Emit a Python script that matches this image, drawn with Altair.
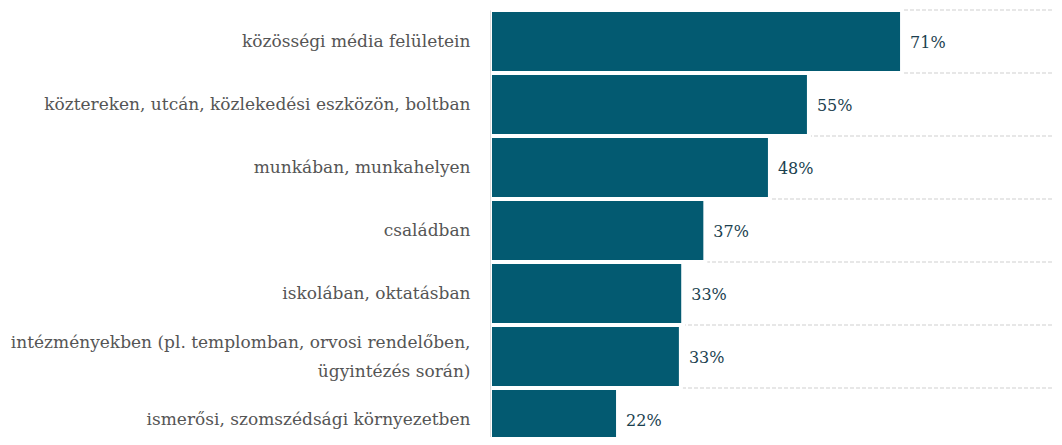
import altair as alt
import pandas as pd

categories = [
    "közösségi média felületein",
    "köztereken, utcán, közlekedési eszközön, boltban",
    "munkában, munkahelyen",
    "családban",
    "iskolában, oktatásban",
    "intézményekben (pl. templomban, orvosi rendelőben,|ügyintézés során)",
    "ismerősi, szomszédsági környezetben",
]
values = [70.8, 54.8, 48.1, 37.0, 33.2, 32.8, 22.0]

df = pd.DataFrame({"cat": categories, "value": values})

FONT = "DejaVu Serif"
BAR = "#035a71"

y_scale = alt.Scale(domain=categories, range=[0, 441], paddingInner=0, paddingOuter=0)
x_scale = alt.Scale(domain=[0, 100], range=[0, 582])

y_axis = alt.Axis(
    labelExpr="split(datum.label, '|')",
    labelFont=FONT,
    labelFontSize=17,
    labelColor="#555555",
    labelPadding=20,
    labelLineHeight=29,
    labelOffset={"condition": {"test": "indexof(datum.label, '|') >= 0", "value": -14}, "value": 0},
    labelLimit=500,
    ticks=False,
    domain=True,
    domainColor="#dddddd",
    domainWidth=1,
    zindex=1,
    grid=False,
)

base = alt.Chart(df)

grid = base.mark_rule(color="#cfcfcf", strokeDash=[4, 2], strokeWidth=1).encode(
    y=alt.Y("cat:N", scale=y_scale, bandPosition=0, sort=None, title=None, axis=y_axis),
    x=alt.value(0),
    x2=alt.value(600),
)

bars = base.mark_bar(color=BAR, stroke="white", strokeWidth=4).encode(
    y=alt.Y("cat:N", scale=y_scale, sort=None, title=None, axis=y_axis),
    x=alt.X("value:Q", scale=x_scale, axis=None),
)

text = base.mark_text(
    align="left", baseline="middle", dx=8, dy=1, font=FONT, fontSize=16, color="#1b3f4f"
).transform_calculate(
    label="format(datum.value, '.0f') + '%'"
).encode(
    y=alt.Y("cat:N", scale=y_scale, sort=None, title=None, axis=y_axis),
    x=alt.X("value:Q", scale=x_scale, axis=None),
    text="label:N",
)

chart = (
    alt.layer(grid, bars, text)
    .properties(
        width=564,
        height=427,
        autosize=alt.AutoSizeParams(type="none"),
        padding={"left": 482, "top": 2, "right": 0, "bottom": 0},
    )
    .configure_view(stroke=None)
)

chart.save("out.html", embed_options={"renderer": "svg", "actions": False})
